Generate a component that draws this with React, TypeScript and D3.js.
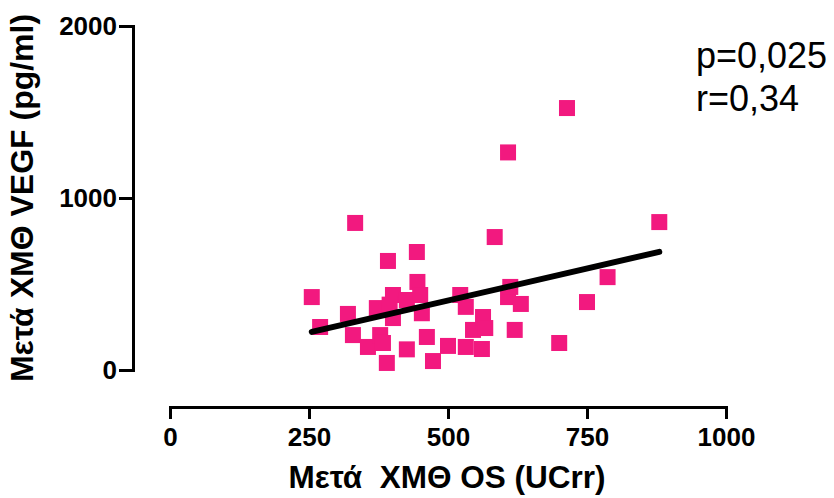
import React, { useEffect, useRef } from "react";
import * as d3 from "d3";

const xValues = [255, 270, 320, 333, 329, 356, 372, 378, 383, 390, 392, 401, 401, 395, 426, 426, 444, 445, 450, 453, 462, 473, 500, 522, 532, 532, 545, 561, 563, 567, 584, 608, 608, 612, 620, 631, 700, 714, 750, 787, 880];
const yValues = [424, 250, 326, 855, 203, 134, 360, 203, 157, 41, 634, 436, 302, 380, 407, 120, 686, 512, 436, 330, 192, 52, 140, 436, 367, 134, 233, 122, 308, 244, 773, 1265, 424, 483, 233, 384, 157, 1523, 395, 540, 860];
const xTicks = [0, 250, 500, 750, 1000];
const yTicks = [0, 1000, 2000];
const xTitle = "Μετά  ΧΜΘ OS (UCrr)";
const yTitle = "Μετά ΧΜΘ VEGF (pg/ml)";
const statLines = ["p=0,025", "r=0,34"];

const W = 834;
const H = 498;
const PINK = "#F2197F";
const FONT = "'Liberation Sans', Arial, Helvetica, sans-serif";

export default function App() {
  const ref = useRef<SVGSVGElement>(null);

  useEffect(() => {
    const svg = d3.select(ref.current);
    svg.selectAll("*").remove();

    const x = d3.scaleLinear().domain([0, 1000]).range([170, 726]);
    const y = d3.scaleLinear().domain([0, 2000]).range([370, 26]);

    const xAxis = svg.append("g").attr("transform", `translate(0,407)`)
      .call(d3.axisBottom(x).tickValues(xTicks).tickSize(12).tickSizeOuter(0).tickPadding(9).tickFormat(d3.format("d")));
    const yAxis = svg.append("g").attr("transform", `translate(133,0)`)
      .call(d3.axisLeft(y).tickValues(yTicks).tickSize(14).tickSizeOuter(0).tickPadding(2).tickFormat(d3.format("d")));

    [xAxis, yAxis].forEach((g) => {
      g.select(".domain").attr("stroke", "#000").attr("stroke-width", 3).attr("stroke-linecap", "square");
      g.selectAll(".tick line").attr("stroke", "#000").attr("stroke-width", 3);
      g.selectAll(".tick text")
        .attr("fill", "#000")
        .style("font-family", FONT)
        .style("font-weight", "bold")
        .style("font-size", "26px");
    });

    const pts = xValues.map((v, i) => ({ x: v, y: yValues[i] }));
    const size = 16;
    svg.append("g").selectAll("rect").data(pts).join("rect")
      .attr("x", (d) => x(d.x) - size / 2)
      .attr("y", (d) => y(d.y) - size / 2)
      .attr("width", size)
      .attr("height", size)
      .attr("fill", PINK);

    // least squares regression
    const mx = d3.mean(pts, (d) => d.x)!;
    const my = d3.mean(pts, (d) => d.y)!;
    const sxy = d3.sum(pts, (d) => (d.x - mx) * (d.y - my));
    const sxx = d3.sum(pts, (d) => (d.x - mx) ** 2);
    const b = sxy / sxx;
    const a = my - b * mx;
    const [x0, x1] = d3.extent(xValues) as [number, number];
    const line = d3.line<number>().x((v) => x(v)).y((v) => y(a + b * v));
    svg.append("path").datum([x0, x1]).attr("d", line)
      .attr("fill", "none").attr("stroke", "#000").attr("stroke-width", 6).attr("stroke-linecap", "round");

    svg.append("text")
      .attr("x", 447).attr("y", 488)
      .attr("text-anchor", "middle")
      .style("font-family", FONT).style("font-weight", "bold").style("font-size", "31.5px")
      .attr("xml:space", "preserve")
      .text(xTitle);

    svg.append("text")
      .attr("transform", "translate(33,198) rotate(-90)")
      .attr("text-anchor", "middle")
      .style("font-family", FONT).style("font-weight", "bold").style("font-size", "32px")
      .text(yTitle);

    svg.append("g").selectAll("text").data(statLines).join("text")
      .attr("x", 696)
      .attr("y", (_, i) => 68 + i * 43)
      .style("font-family", FONT).style("font-size", "36px")
      .text((d) => d);
  }, []);

  return (
    <div style={{ position: "absolute", left: 0, top: 0 }}>
      <svg ref={ref} width={W} height={H} style={{ display: "block", background: "#fff" }} />
    </div>
  );
}
